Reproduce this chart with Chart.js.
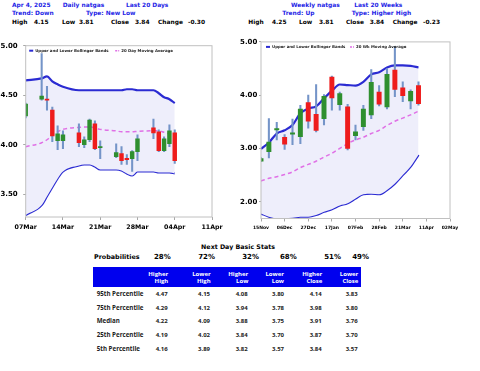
<!DOCTYPE html>
<html>
<head>
<meta charset="utf-8">
<script src="https://cdn.jsdelivr.net/npm/chart.js@4.4.1/dist/chart.umd.min.js"></script>
<style>
    body { margin: 0; width: 480px; height: 371px; background: #fff; position: relative; overflow: hidden; }
    canvas { position: absolute; }
    .t { position: absolute; white-space: nowrap; }
    #statHead { position: absolute; left: 93.3px; top: 267.3px; width: 267.7px; height: 19.4px; background: #0000ee; }
</style>
</head>
<body>
<canvas id="dailyChart" width="236" height="200" style="left:0;top:36px"></canvas>
<canvas id="weeklyChart" width="244" height="200" style="left:236px;top:36px"></canvas>
<div id="statHead"></div>
<script>
// --- Données journalières (20 derniers jours) ---
const dailyDates = ['2025-03-07', '2025-03-10', '2025-03-11', '2025-03-12', '2025-03-13', '2025-03-14',
    '2025-03-17', '2025-03-18', '2025-03-19', '2025-03-20', '2025-03-21', '2025-03-24', '2025-03-25',
    '2025-03-26', '2025-03-27', '2025-03-28', '2025-03-31', '2025-04-01', '2025-04-02', '2025-04-03', '2025-04-04'];
const dailyOpen  = [4.29, 4.46, 4.46, 4.35, 4.04, 4.04, 4.12, 4.00, 4.05, 4.21, 3.97, 3.88, 3.91, 3.86, 3.86, 3.93, 4.17, 4.13, 3.94, 4.01, 4.12];
const dailyHigh  = [4.42, 4.92, 4.59, 4.38, 4.19, 4.14, 4.21, 4.08, 4.26, 4.24, 4.04, 4.01, 3.98, 3.90, 3.94, 4.10, 4.26, 4.15, 4.08, 4.20, 4.15];
const dailyLow   = [4.27, 4.45, 4.35, 4.03, 3.95, 3.96, 3.98, 3.97, 4.03, 3.95, 3.86, 3.87, 3.80, 3.80, 3.73, 3.84, 4.06, 3.93, 3.93, 3.98, 3.81];
const dailyClose = [4.41, 4.49, 4.45, 4.09, 4.11, 4.10, 4.02, 4.05, 4.25, 3.96, 3.98, 3.92, 3.84, 3.85, 3.93, 4.06, 4.12, 3.94, 4.06, 4.14, 3.84];
const dailyUpper = [4.65, 4.67, 4.69, 4.64, 4.61, 4.585, 4.55, 4.55, 4.55, 4.55, 4.55, 4.55, 4.55, 4.56, 4.56, 4.55, 4.55, 4.52, 4.48, 4.46, 4.42];
const dailyLower = [3.29, 3.39, 3.48, 3.57, 3.66, 3.73, 3.79, 3.80, 3.80, 3.78, 3.75, 3.75, 3.74, 3.71, 3.69, 3.73, 3.73, 3.72, 3.72, 3.72, 3.71];
const dailyMA    = [3.98, 4.02, 4.05, 4.10, 4.13, 4.155, 4.175, 4.18, 4.18, 4.17, 4.155, 4.14, 4.13, 4.13, 4.13, 4.135, 4.14, 4.14, 4.125, 4.11, 4.10];
const dailyTickDates = ['2025-03-07', '2025-03-14', '2025-03-21', '2025-03-28', '2025-04-04', '2025-04-11'];
const dailyYTicks = [3.5, 4.0, 4.5, 5.0];

// --- Données hebdomadaires (20 dernières semaines) ---
const weeklyDates = ['2024-11-15', '2024-11-22', '2024-11-29', '2024-12-06', '2024-12-13', '2024-12-20', '2024-12-27',
    '2025-01-03', '2025-01-10', '2025-01-17', '2025-01-24', '2025-01-31', '2025-02-07', '2025-02-14', '2025-02-21',
    '2025-02-28', '2025-03-07', '2025-03-14', '2025-03-21', '2025-03-28', '2025-04-04'];
const weeklyOpen  = [2.76, 2.94, 3.35, 3.21, 3.27, 3.22, 3.86, 3.64, 3.56, 4.34, 3.82, 3.78, 3.24, 3.41, 3.63, 4.06, 3.78, 4.47, 4.14, 3.89, 4.18];
const weeklyHigh  = [2.83, 3.56, 3.49, 3.26, 3.55, 3.81, 4.00, 4.20, 4.01, 4.36, 4.06, 3.83, 3.44, 3.81, 4.48, 4.18, 4.50, 4.91, 4.25, 4.10, 4.25];
const weeklyLow   = [2.75, 2.82, 3.16, 2.98, 3.07, 3.09, 3.38, 3.31, 3.44, 3.72, 3.72, 2.97, 3.16, 3.34, 3.56, 3.80, 3.74, 3.97, 3.88, 3.74, 3.81];
const weeklyClose = [2.81, 3.12, 3.36, 3.08, 3.29, 3.74, 3.51, 3.34, 3.98, 3.95, 4.03, 3.00, 3.31, 3.74, 4.24, 3.83, 4.39, 4.11, 3.99, 4.07, 3.84];
const weeklyUpper = [2.99, 3.11, 3.28, 3.34, 3.44, 3.66, 3.75, 3.79, 3.94, 4.08, 4.20, 4.19, 4.18, 4.25, 4.39, 4.43, 4.52, 4.56, 4.56, 4.55, 4.52];
const weeklyLower = [1.78, 1.72, 1.69, 1.69, 1.70, 1.72, 1.72, 1.75, 1.81, 1.86, 1.93, 1.97, 2.06, 2.14, 2.15, 2.14, 2.22, 2.34, 2.50, 2.66, 2.88];
const weeklyMA    = [2.39, 2.44, 2.47, 2.51, 2.56, 2.64, 2.70, 2.76, 2.84, 2.91, 3.00, 3.09, 3.16, 3.21, 3.28, 3.34, 3.43, 3.51, 3.57, 3.63, 3.70];
const weeklyTickDates = ['2024-11-15', '2024-12-06', '2024-12-27', '2025-01-17', '2025-02-07', '2025-02-28', '2025-03-21', '2025-04-11', '2025-05-02'];
const weeklyYTicks = [2.0, 3.0, 4.0, 5.0];

// --- En-têtes ---
const dailyTitle = ['Apr 4, 2025', 'Daily natgas', 'Last 20 Days'];
const dailyTrend = ['Trend: Down', 'Type: New Low'];
const dailyQuote = ['High', '4.15', 'Low', '3.81', 'Close', '3.84', 'Change', '-0.30'];
const weeklyTitle = ['Weekly natgas', 'Last 20 Weeks'];
const weeklyTrend = ['Trend: Up', 'Type: Higher High'];
const weeklyQuote = ['High', '4.25', 'Low', '3.81', 'Close', '3.84', 'Change', '-0.23'];

// --- Statistiques du lendemain ---
const probabilities = ['28%', '72%', '32%', '68%', '51%', '49%'];
const statColumns = [['Higher', 'High'], ['Lower', 'High'], ['Higher', 'Low'], ['Lower', 'Low'], ['Higher', 'Close'], ['Lower', 'Close']];
const statRows = ['95th Percentile', '75th Percentile', 'Median', '25th Percentile', '5th Percentile'];
const statValues = [
    [4.47, 4.15, 4.08, 3.80, 4.14, 3.83],
    [4.29, 4.12, 3.94, 3.78, 3.98, 3.80],
    [4.22, 4.09, 3.88, 3.75, 3.91, 3.76],
    [4.19, 4.02, 3.84, 3.70, 3.87, 3.70],
    [4.16, 3.89, 3.82, 3.57, 3.84, 3.57]
];

const MONTHS = ['Jan', 'Feb', 'Mar', 'Apr', 'May', 'Jun', 'Jul', 'Aug', 'Sep', 'Oct', 'Nov', 'Dec'];
const dayOffset = (d, start) => (Date.parse(d) - Date.parse(start)) / 864e5;
const fmtDay = d => { const dt = new Date(d); return String(dt.getUTCDate()).padStart(2, '0') + MONTHS[dt.getUTCMonth()]; };

const BLUE_TXT = '#1e1ee6';
const HEAD_FONT = '"DejaVu Sans"';
const TABLE_FONT = '"Open Sans"';

function put(text, x, y, o = {}) {
    const el = document.createElement('div');
    const size = o.size || 5.9;
    el.className = 't';
    el.textContent = text;
    el.style.font = `bold ${size}px ${o.family || HEAD_FONT}`;
    el.style.lineHeight = size + 'px';
    el.style.top = (y - size / 2) + 'px';
    el.style.color = o.color || '#000';
    if (o.align === 'right') {
        el.style.right = (480 - x) + 'px';
    } else if (o.align === 'center') {
        el.style.left = x + 'px';
        el.style.transform = 'translateX(-50%)';
    } else {
        el.style.left = x + 'px';
    }
    document.body.appendChild(el);
}

// Cadre autour de la zone de tracé + petite légende interne
const frameLegend = {
    id: 'frameLegend',
    afterDraw(chart, args, opts) {
        const { ctx, chartArea: a } = chart;
        ctx.save();
        ctx.strokeStyle = '#c0c0c0';
        ctx.lineWidth = 1;
        ctx.strokeRect(a.left, a.top, a.right - a.left, a.bottom - a.top);
        const y = a.top + 5;
        ctx.font = 'bold 3.9px "DejaVu Sans"';
        ctx.textBaseline = 'middle';
        opts.items.forEach(it => {
            ctx.strokeStyle = it.color;
            ctx.lineWidth = it.width;
            ctx.setLineDash(it.dash || []);
            ctx.beginPath();
            ctx.moveTo(a.left + it.x, y);
            ctx.lineTo(a.left + it.x + 4, y);
            ctx.stroke();
            ctx.setLineDash([]);
            ctx.fillStyle = '#222';
            ctx.fillText(it.text, a.left + it.x + 6, y);
        });
        ctx.restore();
    }
};

function renderCandleChart(id, s) {
    const start = s.tickDates[0];
    const xs = s.dates.map(d => dayOffset(d, start));
    const tickXs = s.tickDates.map(d => dayOffset(d, start));
    const tickLabels = s.tickDates.map(fmtDay);
    const up = s.open.map((o, i) => s.close[i] >= o);

    new Chart(document.getElementById(id), {
        type: 'bar',
        data: {
            datasets: [
                {
                    type: 'line', label: 'upper', order: 4,
                    data: xs.map((x, i) => ({ x, y: s.upper[i] })),
                    borderColor: '#2b2bd2', borderWidth: 2.2, pointRadius: 0,
                    cubicInterpolationMode: 'monotone',
                    fill: '+1', backgroundColor: '#eeeefb'
                },
                {
                    type: 'line', label: 'lower', order: 4,
                    data: xs.map((x, i) => ({ x, y: s.lower[i] })),
                    borderColor: '#2b2bd2', borderWidth: 2.2, pointRadius: 0,
                    cubicInterpolationMode: 'monotone', fill: false
                },
                {
                    type: 'line', label: 'ma', order: 3,
                    data: xs.map((x, i) => ({ x, y: s.ma[i] })),
                    borderColor: '#e070e6', borderWidth: 1.5, borderDash: [4, 3], pointRadius: 0,
                    cubicInterpolationMode: 'monotone', fill: false
                },
                {
                    label: 'wick', order: 2, grouped: false,
                    data: xs.map((x, i) => ({ x, y: [s.low[i], s.high[i]] })),
                    backgroundColor: '#7494c8', barThickness: 1.4, borderWidth: 0
                },
                {
                    label: 'body', order: 1, grouped: false,
                    data: xs.map((x, i) => ({ x, y: [s.open[i], s.close[i]] })),
                    backgroundColor: up.map(u => u ? '#2f8f2f' : '#ee1c1c'),
                    barThickness: s.bodyWidth, borderWidth: 0, minBarLength: 1.2
                }
            ]
        },
        plugins: [frameLegend],
        options: {
            responsive: false,
            animation: false,
            events: [],
            layout: { padding: { top: 5.7, right: s.padRight, left: 0, bottom: 0 } },
            scales: {
                x: {
                    type: 'linear', offset: false,
                    min: tickXs[0], max: tickXs[tickXs.length - 1],
                    afterBuildTicks: sc => { sc.ticks = tickXs.map(v => ({ value: v })); },
                    afterFit: sc => { sc.height = s.xHeight; },
                    ticks: {
                        autoSkip: false, maxRotation: 0, padding: s.xPad,
                        color: '#000', font: { family: 'DejaVu Sans', weight: 'bold', size: s.xFont },
                        callback: (v, i) => tickLabels[i]
                    },
                    grid: { offset: false, drawOnChartArea: false, tickLength: 3, color: '#a8a8a8' },
                    border: { display: false }
                },
                y: {
                    min: s.yMin, max: 5.0,
                    afterBuildTicks: sc => { sc.ticks = s.yTicks.map(v => ({ value: v })); },
                    afterFit: sc => { sc.width = s.yWidth; },
                    ticks: {
                        padding: s.yPad, color: '#000',
                        font: { family: 'DejaVu Sans', weight: 'bold', size: 7 },
                        callback: v => v.toFixed(2)
                    },
                    grid: { drawOnChartArea: false, tickLength: s.yTick, color: '#a8a8a8' },
                    border: { display: false }
                }
            },
            plugins: {
                legend: { display: false },
                tooltip: { enabled: false },
                frameLegend: {
                    items: [
                        { x: s.leg[0], color: '#2b2bd2', width: 2, text: 'Upper and Lower Bollinger Bands' },
                        { x: s.leg[1], color: '#e070e6', width: 1.5, dash: [2, 1], text: s.maLabel }
                    ]
                }
            }
        }
    });
}

function renderHeaders() {
    put(dailyTitle[0], 12, 5.7, { color: BLUE_TXT });
    put(dailyTitle[1], 62.7, 5.7, { color: BLUE_TXT });
    put(dailyTitle[2], 126, 5.7, { color: BLUE_TXT });
    put(dailyTrend[0], 12, 14.3, { color: BLUE_TXT });
    put(dailyTrend[1], 86, 14.3, { color: BLUE_TXT });
    [12, 34, 62, 79, 111, 135, 158, 188].forEach((x, i) => put(dailyQuote[i], x, 23.3));

    put(weeklyTitle[0], 291, 5.7, { color: BLUE_TXT });
    put(weeklyTitle[1], 354.3, 5.7, { color: BLUE_TXT });
    put(weeklyTrend[0], 282.3, 14.3, { color: BLUE_TXT });
    put(weeklyTrend[1], 351.7, 14.3, { color: BLUE_TXT });
    [248.3, 272, 299, 319, 346, 369.7, 392.7, 423].forEach((x, i) => put(weeklyQuote[i], x, 23.3));
}

function renderStats() {
    put('Next Day Basic Stats', 238, 247.3, { align: 'center', size: 6.3 });
    put('Probabilities', 94, 257.3, { size: 6.4 });
    const probRight = [170.7, 215, 259, 296.7, 341, 369];
    probabilities.forEach((p, i) => put(p, probRight[i], 257.3, { align: 'right', size: 7 }));

    const headRight = [168.3, 210.7, 248.3, 284, 322.3, 358.3];
    statColumns.forEach((lines, i) => {
        put(lines[0], headRight[i], 273.8, { align: 'right', size: 6, family: TABLE_FONT, color: '#fff' });
        put(lines[1], headRight[i], 280.6, { align: 'right', size: 6, family: TABLE_FONT, color: '#fff' });
    });

    const rowY = [294, 307.7, 321.3, 335, 348.7];
    const valRight = [167.7, 210, 247.7, 284, 321.7, 357.7];
    statRows.forEach((label, r) => {
        put(label, 96.7, rowY[r], { size: 6.2, family: TABLE_FONT, color: '#222' });
        statValues[r].forEach((v, c) => put(v.toFixed(2), valRight[c], rowY[r], { align: 'right', size: 6, family: TABLE_FONT, color: '#222' }));
    });
}

document.addEventListener('DOMContentLoaded', () => {
    renderHeaders();
    renderStats();
    renderCandleChart('dailyChart', {
        dates: dailyDates, open: dailyOpen, high: dailyHigh, low: dailyLow, close: dailyClose,
        upper: dailyUpper, lower: dailyLower, ma: dailyMA,
        tickDates: dailyTickDates, yTicks: dailyYTicks, yMin: 3.27,
        bodyWidth: 3.8, padRight: 24, xHeight: 19, xPad: 3.4, xFont: 6.3,
        yWidth: 25.7, yPad: 5.5, yTick: 2.5,
        leg: [3.5, 89.5], maLabel: '20 Day Moving Average'
    });
    renderCandleChart('weeklyChart', {
        dates: weeklyDates, open: weeklyOpen, high: weeklyHigh, low: weeklyLow, close: weeklyClose,
        upper: weeklyUpper, lower: weeklyLower, ma: weeklyMA,
        tickDates: weeklyTickDates, yTicks: weeklyYTicks, yMin: 1.685,
        bodyWidth: 4.3, padRight: 30, xHeight: 17.5, xPad: 3.5, xFont: 4.5,
        yWidth: 25, yPad: 1.7, yTick: 2,
        leg: [5, 89], maLabel: '20 Wk Moving Average'
    });
});
</script>
</body>
</html>
